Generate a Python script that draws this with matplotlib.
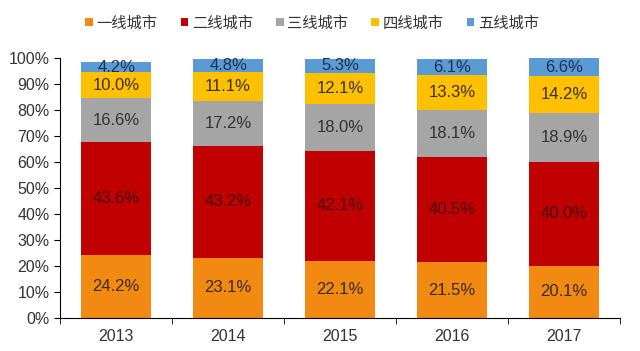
import matplotlib.pyplot as plt
import numpy as np

plt.rcParams['font.family'] = ['Liberation Sans', 'Noto Sans CJK SC', 'DejaVu Sans']

years = ["2013", "2014", "2015", "2016", "2017"]
tiers = ["一线城市", "二线城市", "三线城市", "四线城市", "五线城市"]
tier1 = [24.2, 23.1, 22.1, 21.5, 20.1]
tier2 = [43.6, 43.2, 42.1, 40.5, 40.0]
tier3 = [16.6, 17.2, 18.0, 18.1, 18.9]
tier4 = [10.0, 11.1, 12.1, 13.3, 14.2]
tier5 = [4.2, 4.8, 5.3, 6.1, 6.6]

colors = ["#F28A12", "#C00000", "#A5A5A5", "#FFC000", "#5B9BD5"]
label_colors = ["#3a2a1a", "#4a0a0a", "#333333", "#3a3010", "#1f3050"]

fig = plt.figure(figsize=(6.4, 3.51), dpi=100)
ax = fig.add_axes([0.094, 0.094, 0.875, 0.741])

x = np.arange(len(years))
bottom = np.zeros(len(years))
for name, vals, c, tc in zip(tiers, [tier1, tier2, tier3, tier4, tier5], colors, label_colors):
    vals = np.array(vals)
    ax.bar(x, vals, 0.62, bottom=bottom, color=c, label=name)
    for xi, b, v in zip(x, bottom, vals):
        ax.text(xi, b + v / 2, f"{v:.1f}%", ha="center", va="center",
                fontsize=12, color=tc)
    bottom += vals

ax.set_xlim(-0.5, len(years) - 0.5)
ax.set_ylim(0, 100)
ax.set_yticks(np.arange(0, 101, 10))
ax.set_yticklabels([f"{v}%" for v in range(0, 101, 10)], fontsize=11.5, color="#333333")
ax.set_xticks(x)
ax.set_xticklabels(years, fontsize=11.5, color="#333333")
ax.tick_params(axis="x", length=0, pad=8)
ax.set_xticks(np.arange(-0.5, len(years)), minor=True)
ax.tick_params(axis="x", which="minor", length=4, direction="out", color="black")
ax.tick_params(axis="y", length=4, direction="out")
for s in ["top", "right"]:
    ax.spines[s].set_visible(False)

ax.legend(loc="upper center", bbox_to_anchor=(0.45, 1.215), ncol=5, frameon=False,
          fontsize=11, handlelength=0.5, handleheight=0.5, handletextpad=0.25,
          columnspacing=1.5, labelcolor="#333333")

fig.savefig("out.png", dpi=100)
